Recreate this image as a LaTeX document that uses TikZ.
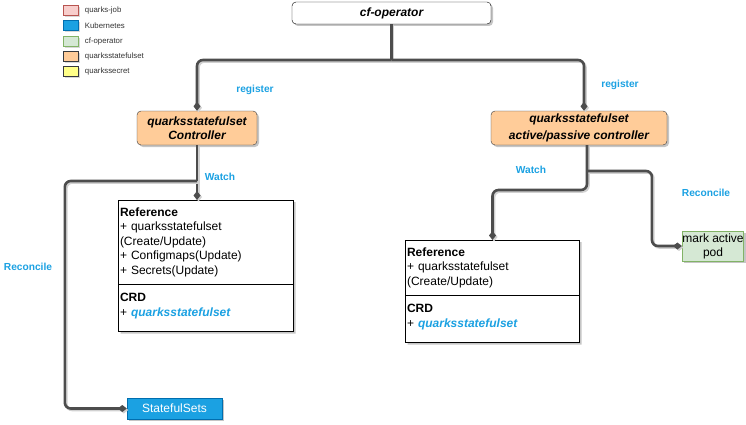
\documentclass[tikz,border=0pt]{standalone}
\usepackage{fontspec}
\setmainfont{Liberation Sans}
\usetikzlibrary{arrows.meta, shapes.multipart, shadows}
\definecolor{wiregray}{HTML}{4D4D4D}
\definecolor{kubeblue}{HTML}{1BA1E2}
\definecolor{kubeedge}{HTML}{006EAF}
\definecolor{qsorange}{HTML}{FFCC99}
\definecolor{boxedge}{HTML}{36393D}
\definecolor{cfgreen}{HTML}{D5E8D4}
\definecolor{cfedge}{HTML}{82B366}
\definecolor{jobpink}{HTML}{F8CECC}
\definecolor{jobedge}{HTML}{B85450}
\definecolor{secyellow}{HTML}{FFFF88}
\definecolor{labelblue}{HTML}{1BA1E2}
\tikzset{
  shade box/.style={drop shadow={shadow xshift=2pt, shadow yshift=-2pt, fill=black!45}},
  wire/.style={draw=wiregray, line width=2.6pt, rounded corners=6pt,
    preaction={draw=black!18, line width=2.6pt, transform canvas={shift={(1.5pt,-1.5pt)}}}},
  tip/.style={-{Diamond[width=7pt,length=9pt]}},
  lbl/.style={text=labelblue, font=\fontsize{10.2}{12}\selectfont\bfseries},
  ctrl/.style={draw=boxedge, fill=qsorange, rounded corners=4pt, shade box, align=center,
    minimum height=34pt, inner sep=1pt, font=\fontsize{12}{14}\selectfont\bfseries\itshape},
  refbox/.style={rectangle split, rectangle split parts=2, draw=black, fill=white, shade box,
    align=left, inner xsep=1.5pt, inner ysep=7pt, anchor=north, font=\fontsize{12}{14.5}\selectfont},
  legbox/.style={draw, thick, minimum width=15pt, minimum height=10pt, inner sep=0pt, drop shadow={shadow xshift=2pt, shadow yshift=-2pt, fill=black!30}},
  legtext/.style={anchor=west, text=black!80, font=\fontsize{7.8}{8}\selectfont},
}
\begin{document}
\begin{tikzpicture}[x=1pt, y=1pt]
	\useasboundingbox (0,0) rectangle (746,424);
	% legend
	\foreach \n/\fc/\dc/\yy/\txt in {job/jobpink/jobedge/413.5/quarks-job, kube/kubeblue/kubeedge/398.5/Kubernetes, cf/cfgreen/cfedge/383/cf-operator, qs/qsorange/boxedge/368/quarksstatefulset, sec/secyellow/boxedge/352.5/quarkssecret}{
		\node[legbox, fill=\fc, draw=\dc] (leg-\n) at (70.5,\yy) {};
		\node[legtext] (legt-\n) at ([xshift=3pt]leg-\n.east) {\txt};
	}
	% boxes
	\node[draw=black, fill=white, rounded corners=4pt, shade box, minimum width=199pt, minimum height=22pt, font=\fontsize{12}{13}\selectfont\bfseries\itshape] (cf) at (391.5,411) {cf-operator};
	\node[ctrl, minimum width=120pt] (lctrl) at (197,296) {quarksstatefulset\\Controller};
	\node[ctrl, minimum width=176pt, font=\fontsize{12}{17}\selectfont\bfseries\itshape] (rctrl) at (579,296) {quarksstatefulset\\active/passive controller};
	\node[refbox, text width=172pt] (lref) at (206,224) {\textbf{Reference}\\+ quarksstatefulset\\(Create/Update)\\+ Configmaps(Update)\\+ Secrets(Update)
		\nodepart{two}\rule{0pt}{11pt}\textbf{CRD}\\+ \textcolor{labelblue}{\bfseries\itshape quarksstatefulset}\rule[-8pt]{0pt}{1pt}};
	\node[refbox, text width=171pt] (rref) at (492.5,184) {\textbf{Reference}\\+ quarksstatefulset\\(Create/Update)
		\nodepart{two}\rule{0pt}{11pt}\textbf{CRD}\\+ \textcolor{labelblue}{\bfseries\itshape quarksstatefulset}\rule[-8pt]{0pt}{1pt}};
	\node[draw=kubeedge, fill=kubeblue, text=white, shade box, minimum width=95pt, minimum height=21pt, inner sep=0pt, font=\fontsize{12}{13}\selectfont] (sts) at (174.5,15.5) {StatefulSets};
	\node[draw=cfedge, thick, fill=cfgreen, shade box, minimum width=60pt, minimum height=30pt, inner sep=0pt, align=center, font=\fontsize{12}{14}\selectfont] (mark) at (713,178) {mark active\\pod};
	% connectors
	\coordinate (bus) at (cf.south |- 0,364);
	\draw[wire] (cf.south) -- (bus);
	\draw[wire, tip] (bus) -| (lctrl.north);
	\draw[wire, tip] (bus) -| ([xshift=5pt]rctrl.north);
	\coordinate (lwatch) at (lctrl.south |- 0,243);
	\draw[wire, tip] (lctrl.south) -- (lctrl.south |- lref.north);
	\draw[wire, tip] (lwatch) -| ([xshift=-62pt]sts.west) -- (sts.west);
	\coordinate (rdrop) at ([xshift=8pt]rctrl.south);
	\draw[wire, tip] (rdrop) -- (rdrop |- 0,234) -| (rref.north);
	\draw[wire, tip] (rdrop |- 0,253) -| ([xshift=-30pt]mark.west) -- (mark.west);
	% labels
	\node[lbl] (reg-l) at (255,334) {register};
	\node[lbl] (reg-r) at (620,339) {register};
	\node[lbl] (watch-l) at (220,247) {Watch};
	\node[lbl] (watch-r) at (531,254) {Watch};
	\node[lbl] (rec-l) at (28,157) {Reconcile};
	\node[lbl] (rec-r) at (706,231) {Reconcile};
\end{tikzpicture}
\end{document}
